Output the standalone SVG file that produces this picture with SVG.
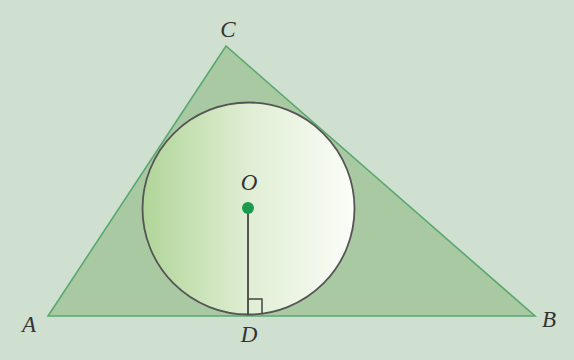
<svg xmlns="http://www.w3.org/2000/svg" width="574" height="360" viewBox="0 0 574 360">
<style>
.lbl{font-family:"Liberation Serif","DejaVu Serif",serif;font-style:italic;font-size:23px;fill:#333;text-anchor:middle}
</style>
<defs>
<linearGradient id="g" x1="0" y1="0" x2="1" y2="0">
<stop offset="0" stop-color="#b0d598"/>
<stop offset="0.5" stop-color="#e0eed4"/>
<stop offset="1" stop-color="#fbfdf8"/>
</linearGradient>
</defs>
<rect width="574" height="360" fill="#cfe0d0"/>
<g id="triangle">
<polygon points="48,316 535,316 226,46" fill="#a8c9a1" stroke="#5aa870" stroke-width="1.6" stroke-linejoin="miter"/>
</g>
<g id="circle">
<circle cx="248.5" cy="208.5" r="106" fill="url(#g)" stroke="#555" stroke-width="1.8"/>
</g>
<g id="connectors">
<line x1="248" y1="208" x2="248" y2="315" stroke="#444" stroke-width="1.8"/>
<polyline points="248,299 262,299 262,314" fill="none" stroke="#444" stroke-width="1.5"/>
</g>
<g id="O">
<circle cx="248" cy="208" r="6" fill="#1a9a4e"/>
<text class="lbl" x="249" y="190">O</text>
</g>
<g id="C"><text class="lbl" x="228" y="37">C</text></g>
<g id="A"><text class="lbl" x="29" y="332">A</text></g>
<g id="B"><text class="lbl" x="549" y="327">B</text></g>
<g id="D"><text class="lbl" x="249" y="342">D</text></g>
</svg>
